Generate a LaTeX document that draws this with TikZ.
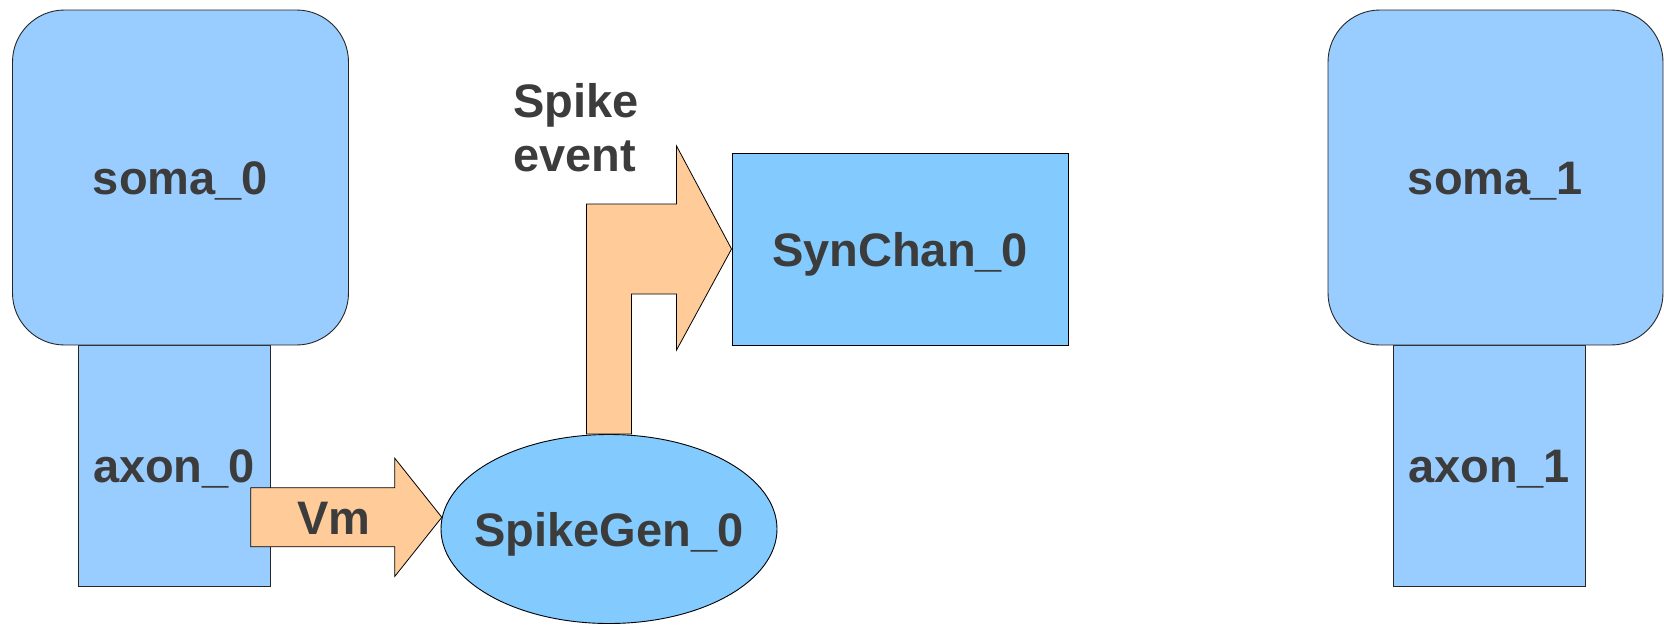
\documentclass[tikz,border=0pt]{standalone}
\usepackage{fontspec}
\setmainfont{Liberation Sans}
\usetikzlibrary{calc,shapes.geometric}
\definecolor{compblue}{HTML}{99CCFF}
\definecolor{objblue}{HTML}{83CAFF}
\definecolor{msgorange}{HTML}{FFCC99}
\definecolor{labelgray}{HTML}{3C3C3C}
\definecolor{edgegray}{HTML}{262626}
\tikzset{
  label text/.style={text=labelgray, font=\fontsize{47}{54}\selectfont\bfseries},
  one line/.style={label text, text height=34pt, text depth=0pt},
  compartment/.style={draw=edgegray, line width=0.9pt, fill=compblue, one line, inner sep=0pt},
  somabox/.style={compartment, rounded corners=52pt, minimum width=336pt, minimum height=335pt},
  axonbox/.style={compartment, minimum width=192pt, minimum height=241pt},
  chanbox/.style={draw=black, line width=0.9pt, fill=objblue, one line, inner sep=0pt, minimum width=336pt, minimum height=192pt},
  genellipse/.style={ellipse, draw=black, line width=0.9pt, fill=objblue, one line, minimum width=336pt, minimum height=189pt, inner sep=0pt},
  msgarrow/.style={draw=black, line width=0.8pt, fill=msgorange, line join=miter},
}
\begin{document}
\begin{tikzpicture}[x=1pt, y=-1pt]
\useasboundingbox (0,0) rectangle (1664,624);
\fill[white] (0,0) rectangle (1664,624);

% first neuron: axon under the soma
\node[axonbox] (axon_0) at (174,465.5) {axon\_0};
\node[somabox] (soma_0) at (180.5,177.5) {soma\_0};

% second neuron
\node[axonbox] (axon_1) at (1489,465.5) {axon\_1};
\node[somabox, minimum width=335pt] (soma_1) at (1495.5,177.5) {soma\_1};

% spike generator (label boxed at zero width so the ellipse keeps its size)
\node[genellipse] (SpikeGen_0) at (609,529) {\makebox[0pt]{SpikeGen\_0}};
\node[chanbox] (SynChan_0) at (900,249) {SynChan\_0};

% Vm message: block arrow from the axon into the spike generator
\coordinate (vmtip) at (SpikeGen_0.176);
\draw[msgarrow] ($(vmtip)+(-191,-29.5)$) -- ($(vmtip)+(-47,-29.5)$)
  -- ($(vmtip)+(-47,-59)$) -- (vmtip) -- ($(vmtip)+(-47,59)$)
  -- ($(vmtip)+(-47,29.5)$) -- ($(vmtip)+(-191,29.5)$) -- cycle;
\node[one line, inner sep=0pt] (vm) at ($(vmtip)+(-108,0)$) {Vm};

% spike event: bent block arrow from the generator up into the channel
\coordinate (gtop) at (SpikeGen_0.north);
\coordinate (ctip) at (SynChan_0.west);
\coordinate (bend) at (gtop|-ctip);
\draw[msgarrow] ($(gtop)+(-22.5,0)$) -- ($(bend)+(-22.5,-45)$)
  -- ($(ctip)+(-55,-45)$) -- ($(ctip)+(-55,-103)$) -- (ctip)
  -- ($(ctip)+(-55,101)$) -- ($(ctip)+(-55,45)$)
  -- ($(bend)+(22.5,45)$) -- ($(gtop)+(22.5,0)$) -- cycle;
\node[label text, align=left, anchor=west, inner sep=0pt] (spikeevent) at (513,128) {Spike\\event};
\end{tikzpicture}
\end{document}
